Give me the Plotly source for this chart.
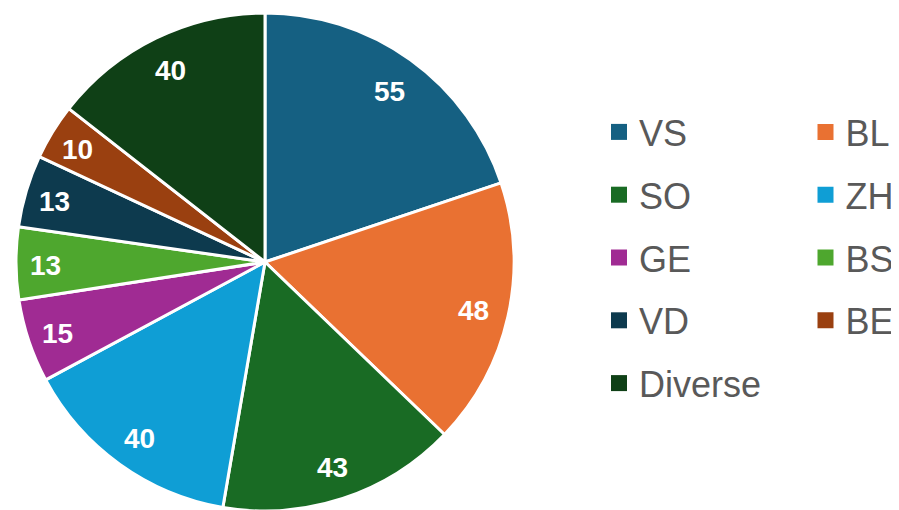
import numpy as np
import plotly.graph_objects as go

# ---- data ----
labels = ["VS", "BL", "SO", "ZH", "GE", "BS", "VD", "BE", "Diverse"]
values = [55, 48, 43, 40, 15, 13, 13, 10, 40]
colors = ["#156082", "#E97132", "#196B24", "#0F9ED5", "#A02B93",
          "#4EA72E", "#0D3A4E", "#9A4010", "#0F4016"]
# legend columns (row-wise order: VS BL / SO ZH / GE BS / VD BE / Diverse)
legend_col1 = ["VS", "SO", "GE", "VD", "Diverse"]
legend_col2 = ["BL", "ZH", "BS", "BE"]

# ---- layout constants (page body adds an 8px offset) ----
W, H = 899, 510
M_L, M_R, M_T, M_B = 0, 0, 5, 7
PW, PH = W - M_L - M_R, H - M_T - M_B
dom_x = [8 / PW, 506 / PW]
dom_y = [0, 1]
FONT = "Liberation Sans, Arial, sans-serif"

fig = go.Figure()
fig.add_trace(go.Pie(
    labels=labels,
    values=values,
    marker=dict(colors=colors, line=dict(color="white", width=3)),
    sort=False,
    direction="clockwise",
    rotation=0,
    textinfo="none",
    hoverinfo="label+value",
    showlegend=False,
    domain=dict(x=dom_x, y=dom_y),
))

# legend entries (two columns) sharing the slice colours
color_of = dict(zip(labels, colors))
for leg, names in (("legend", legend_col1), ("legend2", legend_col2)):
    for nm in names:
        fig.add_trace(go.Scatter(
            x=[None], y=[None], mode="markers", name=nm,
            legend=leg, legendgroup=nm, showlegend=True,
            marker=dict(symbol="square", size=16, color=color_of[nm],
                        line=dict(width=0)),
            hoverinfo="skip",
        ))

# value labels placed along each slice's mid-angle (derived from values);
# wider slices keep their label slightly further from the rim
vals = np.array(values, dtype=float)
span_deg = vals / vals.sum() * 360
mid = (np.cumsum(vals) - vals / 2) / vals.sum() * 2 * np.pi
cx = (dom_x[0] + dom_x[1]) / 2
cy = (dom_y[0] + dom_y[1]) / 2
rr = min((dom_x[1] - dom_x[0]) * PW, (dom_y[1] - dom_y[0]) * PH) / 2
annotations = []
for v, a, s in zip(values, mid, span_deg):
    frac = 0.89 - 0.0005 * s
    annotations.append(dict(
        x=cx + frac * rr * np.sin(a) / PW,
        y=cy + frac * rr * np.cos(a) / PH,
        xref="paper", yref="paper", text=str(v), showarrow=False,
        xanchor="center", yanchor="middle", yshift=-2,
        font=dict(family=FONT, size=28, color="white", weight="bold"),
    ))

legend_common = dict(
    orientation="v", xanchor="left", yanchor="top",
    font=dict(family=FONT, size=36, color="#595959"),
    bgcolor="rgba(0,0,0,0)", tracegroupgap=13,
    itemclick=False, itemdoubleclick=False,
)
leg_top_px = 94
fig.update_layout(
    width=W, height=H,
    margin=dict(l=M_L, r=M_R, t=M_T, b=M_B),
    paper_bgcolor="white", plot_bgcolor="white",
    xaxis=dict(visible=False), yaxis=dict(visible=False),
    annotations=annotations,
    legend=dict(x=591 / PW, y=(H - M_B - leg_top_px) / PH, **legend_common),
    legend2=dict(x=797.5 / PW, y=(H - M_B - leg_top_px) / PH, **legend_common),
)

fig.write_html("out.html")
